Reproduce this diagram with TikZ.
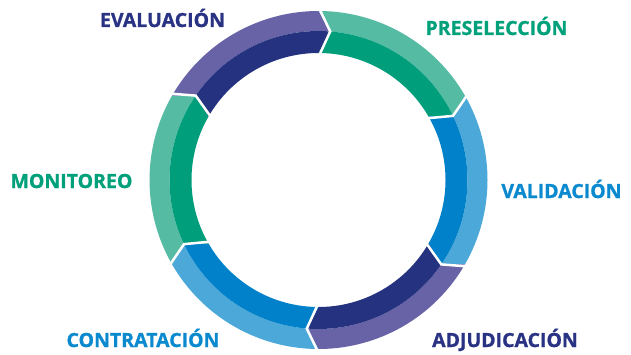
\documentclass[tikz,border=0pt]{standalone}
\usepackage{fontspec}
\setmainfont{Open Sans}[BoldFeatures={FakeBold=1}]
\definecolor{lpurple}{HTML}{6763A6}
\definecolor{dpurple}{HTML}{24327F}
\definecolor{lgreen}{HTML}{56BBA3}
\definecolor{dgreen}{HTML}{009E7B}
\definecolor{lblue}{HTML}{4DA8DA}
\definecolor{dblue}{HTML}{0081C9}
\definecolor{tnavy}{HTML}{2A3383}
\definecolor{tgreen}{HTML}{00A07A}
\definecolor{tblue}{HTML}{0A89CF}
\begin{document}
\begin{tikzpicture}[x=1pt,y=1pt,
  lbl/.style={inner sep=0pt, anchor=base, font=\fontsize{19.5}{20}\selectfont\bfseries},
  gapline/.style={white, line width=2.5pt, line join=miter}]
\useasboundingbox (0,0) rectangle (631,354);
\def\Ro{169}\def\Rm{149}\def\Ri{127}\def\tp{4.5}
\begin{scope}[shift={(318.5,174)}]
\foreach \s/\lc/\dc in {90/lgreen/dgreen, 30/lblue/dblue, -30/lpurple/dpurple, -90/lblue/dblue, -150/lgreen/dgreen, 150/lpurple/dpurple}{
  \pgfmathsetmacro\e{\s-60}
  \pgfmathsetmacro\et{\s-60-\tp}
  \pgfmathsetmacro\st{\s-\tp}
  \fill[\lc] (\s:\Ro) arc[start angle=\s, end angle=\e, radius=\Ro] -- (\et:\Rm) arc[start angle=\et, end angle=\st, radius=\Rm] -- cycle;
  \fill[\dc] (\s:\Ri) arc[start angle=\s, end angle=\e, radius=\Ri] -- (\et:\Rm) arc[start angle=\et, end angle=\st, radius=\Rm] -- cycle;
}
\foreach \b in {90,30,-30,-90,-150,150}{
  \pgfmathsetmacro\bt{\b-\tp}
  \draw[gapline] (\b:\Ro+4) -- (\bt:\Rm) -- (\b:\Ri-4);
}
\end{scope}
\node[lbl, text=tnavy] (eval) at (162.5,327) {EVALUACIÓN};
\node[lbl, text=tgreen] (pres) at (496.5,319) {PRESELECCIÓN};
\node[lbl, text=tgreen] (moni) at (71.5,166) {MONITOREO};
\node[lbl, text=tblue] (vali) at (561.5,156) {VALIDACIÓN};
\node[lbl, text=tblue] (cont) at (143,7) {CONTRATACIÓN};
\node[lbl, text=tnavy] (adju) at (505,7) {ADJUDICACIÓN};
\end{tikzpicture}
\end{document}
